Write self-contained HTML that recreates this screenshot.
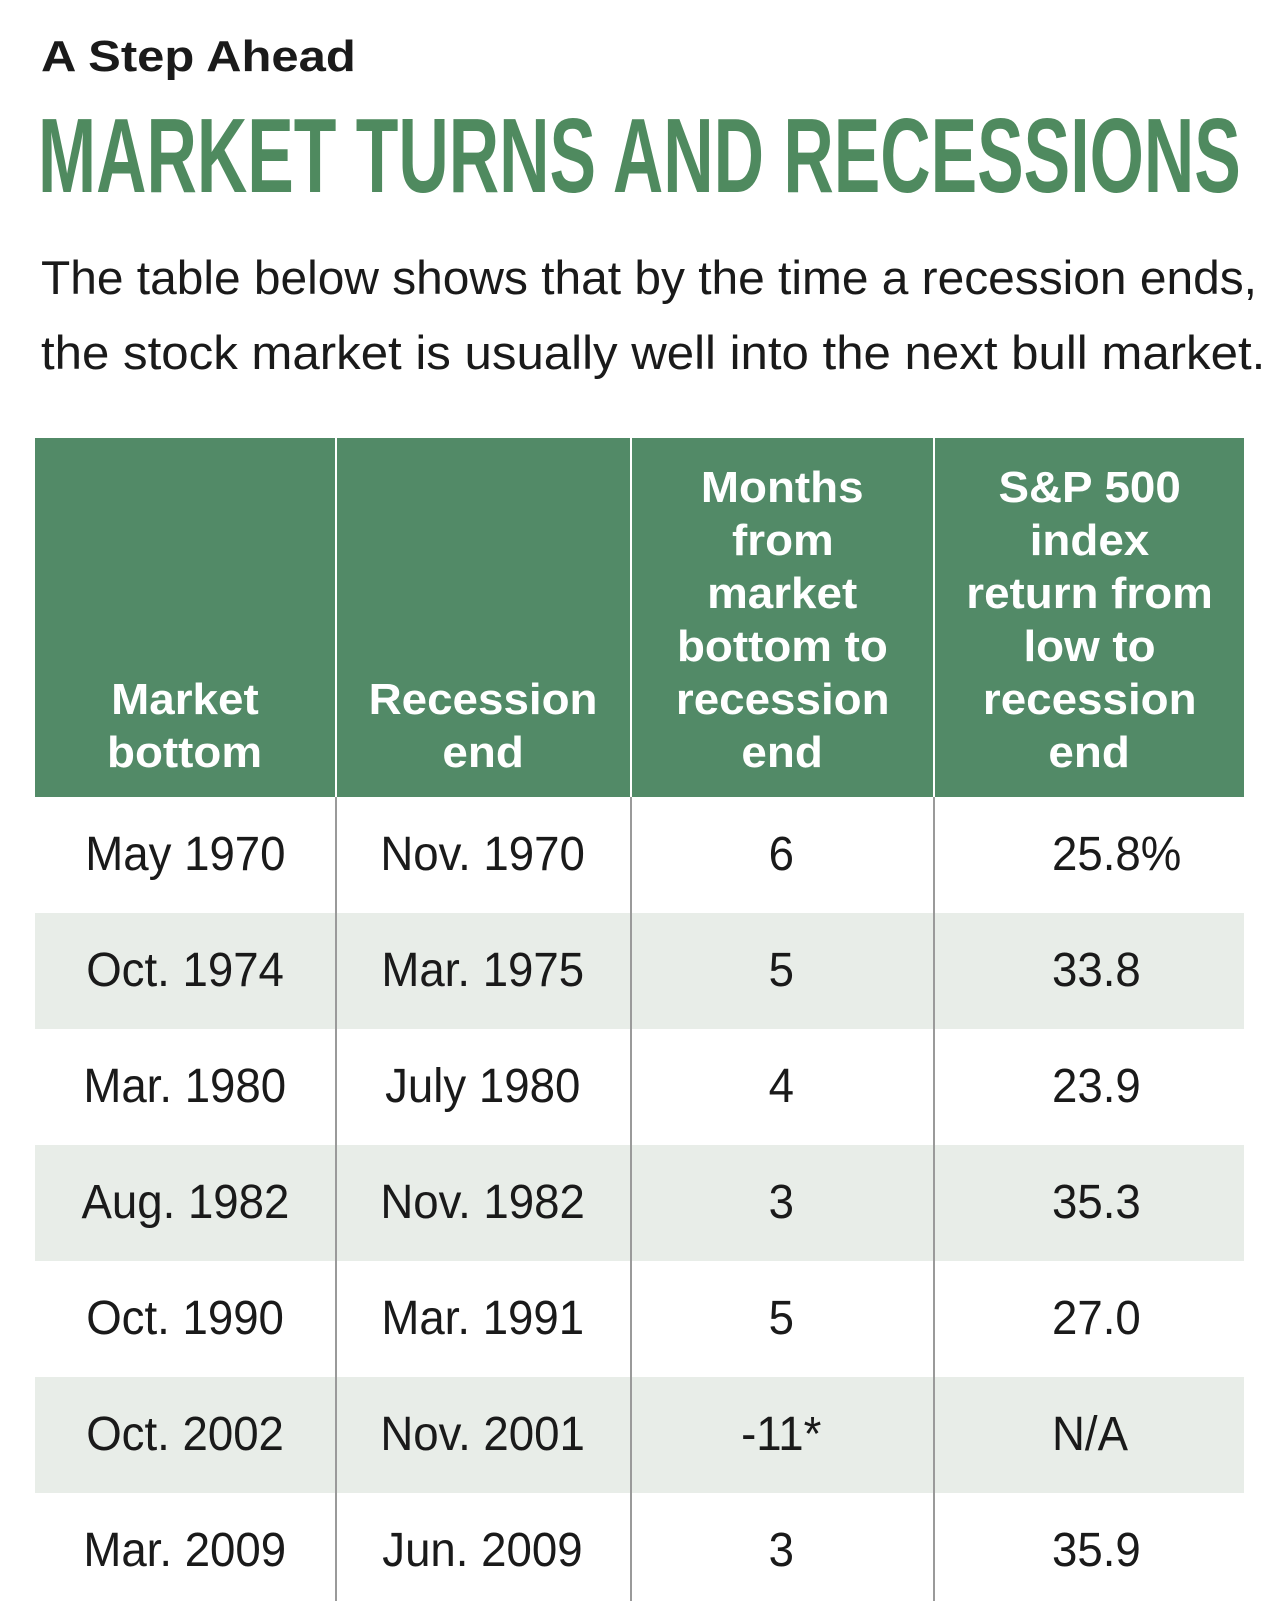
<!DOCTYPE html>
<html><head><meta charset="utf-8">
<style>
body{margin:0;width:1280px;height:1605px;background:#fff;position:relative;overflow:hidden;font-family:"Liberation Sans",sans-serif;}
.fit{position:absolute;white-space:nowrap;transform-origin:0 0;}
#tbl{position:absolute;left:35px;top:438px;width:1209px;}
.hdr{position:absolute;top:0;height:359px;background:#528a67;}
.ht{position:absolute;left:0;right:0;color:#fff;font-weight:bold;font-size:44px;text-align:center;line-height:53px;bottom:18px;}
.ht span{display:inline-block;transform:scaleX(1.04);white-space:nowrap;}
.row{position:absolute;left:0;width:1209px;height:116px;}
.alt{background:#e8ede8;}
.cell{position:absolute;top:0;height:116px;line-height:116px;font-size:48px;color:#1a1a1a;}
.cell span{display:inline-block;transform:scaleX(0.95);white-space:nowrap;}
.vl{position:absolute;width:2px;background:#9a9a9a;}
</style></head><body>
<div class="fit" data-w="315" style="left:41px;top:32px;font-size:44px;font-weight:bold;color:#1a1a1a;">A Step Ahead</div>
<div class="fit" data-w="1203" style="left:38px;top:103px;font-size:106px;line-height:106px;font-weight:bold;color:#4f8a5f;">MARKET TURNS AND RECESSIONS</div>
<div class="fit" data-w="1216" style="left:41px;top:250px;font-size:47px;color:#1a1a1a;">The table below shows that by the time a recession ends,</div>
<div class="fit" data-w="1224" style="left:41px;top:325px;font-size:47px;color:#1a1a1a;">the stock market is usually well into the next bull market.</div>
<div id="tbl"></div>
<script>
const marketBottom=["May 1970","Oct. 1974","Mar. 1980","Aug. 1982","Oct. 1990","Oct. 2002","Mar. 2009"];
const recessionEnd=["Nov. 1970","Mar. 1975","July 1980","Nov. 1982","Mar. 1991","Nov. 2001","Jun. 2009"];
const monthsToEnd=["6","5","4","3","5","-11*","3"];
const spReturn=["25.8%","33.8","23.9","35.3","27.0","N/A","35.9"];
const headers=[["Market","bottom"],["Recession","end"],["Months","from","market","bottom to","recession","end"],["S&P 500","index","return from","low to","recession","end"]];
const colX=[0,300,595,898,1209];
const t=document.getElementById('tbl');
headers.forEach((h,i)=>{
  const d=document.createElement('div');d.className='hdr';
  
  
  d.style.left=(colX[i]+(i?2:0))+'px';d.style.width=(colX[i+1]-colX[i]-(i?2:0))+'px';
  const tx=document.createElement('div');tx.className='ht';
  tx.innerHTML=h.map(s=>'<span>'+s.replace('&','&amp;')+'</span>').join('<br>');
  d.appendChild(tx);t.appendChild(d);
});
const cols=[marketBottom,recessionEnd,monthsToEnd,spReturn];
marketBottom.forEach((_,r)=>{
  const row=document.createElement('div');row.className='row'+(r%2?' alt':'');
  
  
  row.style.top=(359+r*116)+'px';
  cols.forEach((c,i)=>{
    const cell=document.createElement('div');cell.className='cell';
    
    
    if(i<3){cell.style.left=colX[i]+'px';cell.style.width=(colX[i+1]-colX[i])+'px';cell.style.textAlign='center';}
    else{cell.style.left='1017px';}
    cell.innerHTML='<span style="transform-origin:'+(i<3?'50%':'0')+' 50%">'+c[r]+'</span>';
    row.appendChild(cell);
  });
  t.appendChild(row);
});
[1,2,3].forEach(i=>{
  const v=document.createElement('div');v.className='vl';
  
  
  v.style.left=(colX[i])+'px';v.style.top='359px';v.style.height='804px';
  t.appendChild(v);
  const w=document.createElement('div');w.style.cssText='position:absolute;top:0;height:359px;width:2px;background:#fff;left:'+colX[i]+'px';
  
  
  t.appendChild(w);
});
document.querySelectorAll('.fit').forEach(e=>{
  const tw=+e.getAttribute('data-w');const w=e.scrollWidth;
  e.style.transform='scaleX('+(tw/w)+')';
});
</script>
</body></html>
